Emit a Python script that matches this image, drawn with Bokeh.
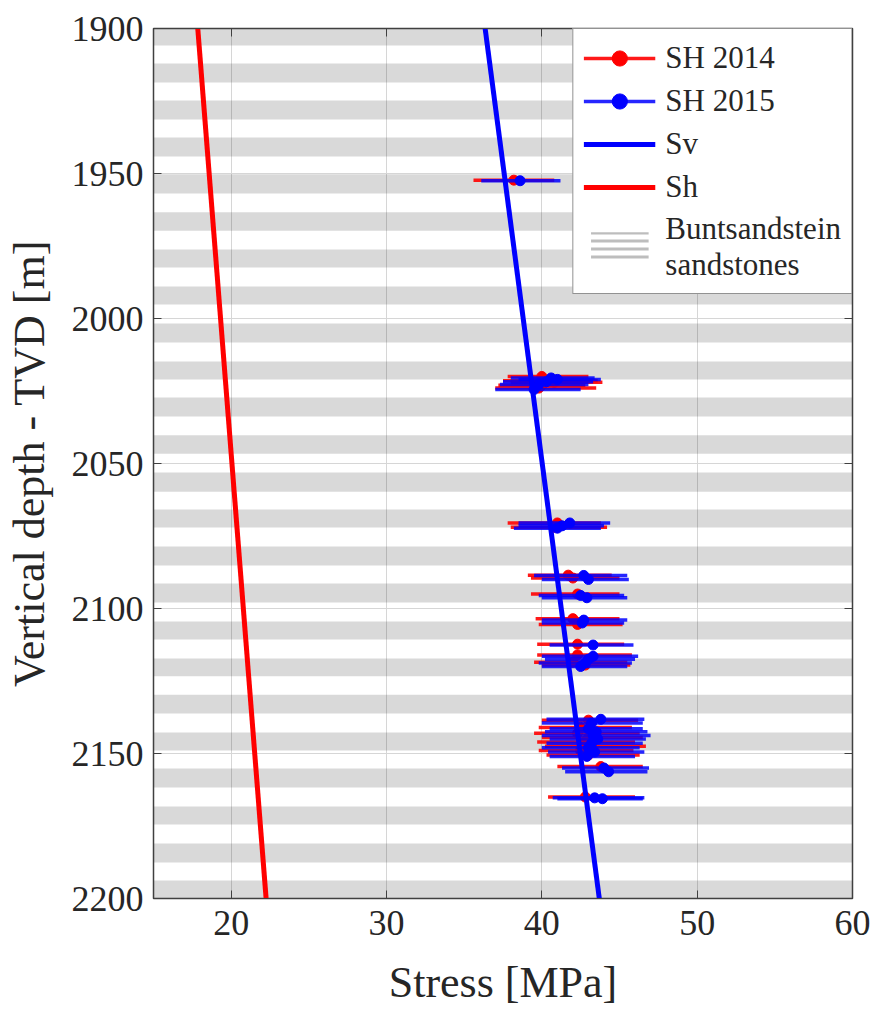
from bokeh.plotting import figure
from bokeh.models import Range1d, LinearAxis, Legend, LegendItem, FixedTicker
from bokeh.embed import file_html
from bokeh.resources import INLINE

# ---------------- data ----------------
band_top = [1899.0, 1912.1, 1924.8, 1937.6, 1950.3, 1963.4, 1976.2, 1989.0,
            2001.7, 2014.8, 2027.2, 2040.3, 2053.1, 2065.9, 2078.6, 2091.4,
            2104.5, 2117.2, 2129.7, 2142.8, 2155.2, 2168.3, 2181.0, 2193.8]
band_bottom = [1905.9, 1918.6, 1931.4, 1944.1, 1956.9, 1969.7, 1982.4, 1995.2,
               2008.3, 2021.0, 2033.8, 2046.6, 2059.7, 2072.1, 2085.2, 2097.9,
               2110.7, 2123.4, 2136.2, 2149.0, 2161.7, 2174.5, 2187.6, 2200.0]

sv_depth = [1900, 2200]
sv_stress = [36.35, 43.7]
sh_depth = [1900, 2200]
sh_stress = [17.85, 22.25]

sh2014_depth = [1952.3, 2020.0, 2021.5, 2022.0, 2023.0, 2024.0, 2070.5, 2072.0,
                2088.5, 2089.5, 2095.0, 2103.5, 2105.5, 2112.3, 2116.0, 2118.5,
                2119.5, 2138.5, 2141.0, 2143.0, 2144.5, 2146.0, 2147.5, 2149.0,
                2150.5, 2154.5, 2165.0]
sh2014_stress = [38.2, 40.0, 40.5, 40.8, 40.0, 39.8, 41.0, 40.8,
                 41.7, 42.0, 42.3, 42.0, 42.3, 42.3, 42.3, 42.0,
                 42.8, 43.0, 42.5, 42.3, 43.0, 42.8, 43.2, 42.5,
                 43.0, 43.8, 42.8]
sh2014_low = [35.6, 37.8, 37.5, 38.0, 37.2, 37.0, 37.8, 38.0,
              39.1, 39.3, 39.3, 39.6, 39.8, 39.7, 39.7, 39.5,
              40.0, 40.0, 39.8, 39.5, 40.0, 39.7, 40.2, 39.8,
              40.3, 41.0, 40.4]
sh2014_high = [40.8, 43.0, 43.6, 43.9, 42.8, 43.5, 43.8, 44.2,
               44.5, 45.0, 45.0, 45.0, 45.2, 45.3, 45.8, 45.5,
               45.7, 46.2, 45.8, 46.3, 46.5, 46.0, 46.7, 45.9,
               46.3, 46.5, 46.0]

sh2015_depth = [1952.5, 2020.5, 2021.0, 2021.8, 2022.8, 2024.5, 2070.5, 2071.5,
                2072.3, 2088.6, 2090.0, 2095.5, 2096.3, 2104.0, 2105.0, 2112.6,
                2116.5, 2117.5, 2118.8, 2120.0, 2138.2, 2139.5, 2141.5, 2142.5,
                2143.8, 2145.0, 2146.5, 2148.0, 2149.5, 2151.0, 2155.0, 2156.3,
                2165.3, 2165.6]
sh2015_stress = [38.6, 40.6, 41.0, 40.3, 39.8, 39.5, 41.8, 41.3,
                 41.0, 42.7, 43.0, 42.5, 42.9, 42.7, 42.6, 43.3,
                 43.3, 43.0, 42.8, 42.5, 43.8, 43.2, 43.0, 43.5,
                 43.3, 43.6, 43.2, 43.0, 43.4, 42.9, 44.0, 44.3,
                 43.4, 43.9]
sh2015_low = [36.1, 38.0, 38.5, 37.5, 37.3, 37.0, 38.5, 38.5,
              38.2, 39.5, 40.0, 39.8, 40.0, 40.0, 40.0, 40.5,
              40.0, 40.2, 39.8, 40.0, 40.3, 40.0, 40.5, 40.2,
              40.0, 40.5, 40.3, 40.0, 40.4, 40.5, 41.3, 41.5,
              40.7, 41.0]
sh2015_high = [41.2, 43.4, 43.8, 43.3, 43.0, 42.5, 44.4, 44.0,
               43.8, 45.5, 45.6, 45.3, 45.5, 45.5, 45.3, 45.9,
               46.2, 46.0, 45.8, 45.5, 46.6, 46.5, 46.5, 46.8,
               47.0, 46.7, 46.5, 46.3, 46.6, 46.0, 46.9, 46.8,
               46.6, 46.5]

x_ticks = [20, 30, 40, 50, 60]
y_ticks = [1900, 1950, 2000, 2050, 2100, 2150, 2200]

# ---------------- figure ----------------
FONT = "'Liberation Serif', 'Times New Roman', serif"
DARK = "#262626"
AX = "#404040"

p = figure(width=870, height=1011, output_backend="svg", toolbar_location=None,
           x_range=Range1d(15, 60), y_range=Range1d(2200, 1900),
           min_border_left=153, min_border_right=18, min_border_top=28,
           min_border_bottom=113)
p.background_fill_color = "white"
p.border_fill_color = "white"
p.outline_line_color = AX
p.outline_line_width = 1.5

for ax in (p.xaxis[0], p.yaxis[0]):
    ax.major_label_text_font = FONT
    ax.major_label_text_font_size = "36px"
    ax.major_label_text_color = DARK
    ax.axis_label_text_font = FONT
    ax.axis_label_text_font_size = "44px"
    ax.axis_label_text_font_style = "normal"
    ax.axis_label_text_color = DARK
    ax.axis_line_color = AX
    ax.major_tick_line_color = AX
    ax.major_tick_in = 8
    ax.major_tick_out = 0
    ax.minor_tick_line_color = None

p.xaxis[0].major_label_standoff = 12
p.yaxis[0].major_label_standoff = 10
p.xaxis[0].ticker = FixedTicker(ticks=x_ticks)
p.yaxis[0].ticker = FixedTicker(ticks=y_ticks)
p.xaxis[0].axis_label = "Stress [MPa]"
p.yaxis[0].axis_label = "Vertical depth - TVD [m]"
p.xaxis[0].axis_label_standoff = 20
p.yaxis[0].axis_label_standoff = 15

# mirrored tick marks (box style)
top_ax = LinearAxis(ticker=FixedTicker(ticks=x_ticks), major_label_text_font_size="0px",
                    major_label_text_color=None, major_tick_in=8, major_tick_out=0,
                    minor_tick_line_color=None, axis_line_color=AX,
                    major_tick_line_color=AX, major_label_standoff=0)
right_ax = LinearAxis(ticker=FixedTicker(ticks=y_ticks), major_label_text_font_size="0px",
                      major_label_text_color=None, major_tick_in=8, major_tick_out=0,
                      minor_tick_line_color=None, axis_line_color=AX,
                      major_tick_line_color=AX, major_label_standoff=0)
p.add_layout(top_ax, "above")
p.add_layout(right_ax, "right")

p.xgrid.ticker = FixedTicker(ticks=x_ticks)
p.ygrid.ticker = FixedTicker(ticks=y_ticks)
p.xgrid.grid_line_color = "#d6d6d6"
p.ygrid.grid_line_color = "#d6d6d6"

# sandstone bands
p.quad(left=15, right=60, top=band_top, bottom=band_bottom,
       fill_color="black", fill_alpha=0.15, line_color=None)
band_leg = p.quad(left=15, right=60, top=band_top, bottom=band_bottom,
                  fill_color="white", fill_alpha=1.0, line_color=None,
                  hatch_pattern="horizontal_line", hatch_color="#bdbdbd",
                  hatch_weight=3, hatch_scale=8, visible=False)

# measurements
s14 = p.segment(x0=sh2014_low, x1=sh2014_high, y0=sh2014_depth, y1=sh2014_depth,
                line_color="#ff0000", line_width=3.5, line_alpha=0.9)
m14 = p.scatter(x=sh2014_stress, y=sh2014_depth, size=10, marker="circle",
                fill_color="#ff0000", line_color="#ff0000")
s15 = p.segment(x0=sh2015_low, x1=sh2015_high, y0=sh2015_depth, y1=sh2015_depth,
                line_color="#0000ff", line_width=3.5, line_alpha=0.85)
m15 = p.scatter(x=sh2015_stress, y=sh2015_depth, size=10, marker="circle",
                fill_color="#0000ff", line_color="#0000ff")

# gradient lines
rsv = p.line(x=sv_stress, y=sv_depth, line_color="#0000ff", line_width=5)
rsh = p.line(x=sh_stress, y=sh_depth, line_color="#ff0000", line_width=5)

legend = Legend(items=[
    LegendItem(label="SH 2014", renderers=[s14, m14]),
    LegendItem(label="SH 2015", renderers=[s15, m15]),
    LegendItem(label="Sv", renderers=[rsv]),
    LegendItem(label="Sh", renderers=[rsh]),
    LegendItem(label="Buntsandstein\nsandstones", renderers=[band_leg]),
], location="top_right")
legend.label_text_font = FONT
legend.label_text_font_size = "31px"
legend.label_text_color = DARK
legend.glyph_width = 72
legend.glyph_height = 38
legend.label_height = 38
legend.label_standoff = 10
legend.spacing = 5
legend.padding = 10
legend.margin = 0
legend.border_line_color = DARK
legend.border_line_width = 1.5
legend.background_fill_color = "white"
legend.background_fill_alpha = 1.0
legend.inactive_fill_alpha = 0.0
p.add_layout(legend)

open("out.html", "w").write(file_html(p, INLINE))
